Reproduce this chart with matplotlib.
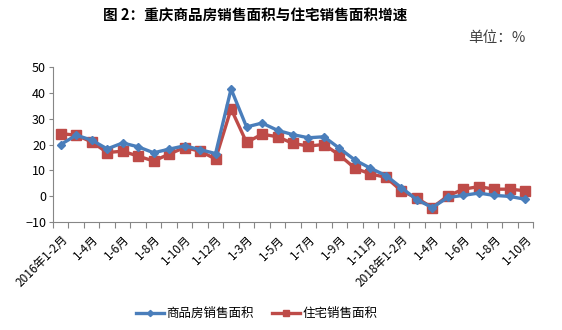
import numpy as np
import matplotlib
matplotlib.use('Agg')
from matplotlib import pyplot as plt

plt.rcParams['font.family'] = ['Noto Sans CJK SC', 'DejaVu Sans']

# monthly cumulative growth, %
months = ['2016年1-2月', '1-3月', '1-4月', '1-5月', '1-6月', '1-7月', '1-8月', '1-9月', '1-10月', '1-11月', '1-12月',
          '2017年1-2月', '1-3月', '1-4月', '1-5月', '1-6月', '1-7月', '1-8月', '1-9月', '1-10月', '1-11月', '1-12月',
          '2018年1-2月', '1-3月', '1-4月', '1-5月', '1-6月', '1-7月', '1-8月', '1-9月', '1-10月']
commercial = [20.0, 23.6, 21.7, 18.3, 20.6, 19.1, 16.8, 18.2, 19.5, 18.0, 16.5,
              41.5, 26.8, 28.3, 25.5, 23.8, 22.6, 23.0, 18.5, 14.0, 10.8, 8.0,
              3.3, -1.4, -4.4, -0.5, 0.3, 1.2, 0.3, -0.1, -1.2]
residential = [24.2, 23.6, 21.0, 16.9, 17.4, 15.5, 13.6, 16.3, 18.8, 17.4, 14.4,
               33.8, 20.8, 24.0, 23.0, 20.4, 19.4, 20.0, 15.9, 10.8, 8.6, 7.3,
               2.1, -0.8, -4.4, 0.1, 2.7, 3.7, 2.7, 2.7, 2.1]

x = np.arange(len(months))

fig = plt.figure(figsize=(5.62, 3.30), dpi=100)
ax = fig.add_axes([53/562, 1-222/330, 480/562, 155/330])

ax.plot(x, commercial, color='#4a7ebb', lw=2.4, marker='D', ms=4.5, label='商品房销售面积', zorder=3)
ax.plot(x, residential, color='#be4b48', lw=2.4, marker='s', ms=6.5, label='住宅销售面积', zorder=2)

ax.set_xlim(-0.5, len(months)-0.5)
ax.set_ylim(-10, 50)
ax.set_yticks(range(-10, 51, 10))
ax.tick_params(axis='y', labelsize=9, length=3, color='#868686', pad=2)

# category boundaries as ticks, labels every other month
ax.set_xticks(np.arange(-0.5, len(months), 1), minor=False)
ax.set_xticklabels([])
ax.set_xticks(x[::2], minor=True)
ax.set_xticklabels([months[i] for i in x[::2]], minor=True, rotation=45, ha='right',
                   rotation_mode='anchor', fontsize=8.5)
ax.tick_params(axis='x', which='major', length=4, color='#868686')
ax.tick_params(axis='x', which='minor', length=0, pad=8)

for s in ['top', 'right']:
    ax.spines[s].set_visible(False)
for s in ['left', 'bottom']:
    ax.spines[s].set_color('#868686')

fig.text(0.454, 0.955, '图 2：重庆商品房销售面积与住宅销售面积增速', ha='center', va='center',
         fontsize=10.5, fontweight='bold')
fig.text(0.935, 0.885, '单位：%', ha='right', va='center', fontsize=10.5, color='#404040')

fig.legend(loc='center', bbox_to_anchor=(0.457, 0.05), ncol=2, frameon=False, fontsize=9,
           handlelength=2.2, handletextpad=0.2, columnspacing=1.5, markerscale=0.7)

fig.savefig('out.png', dpi=100)
